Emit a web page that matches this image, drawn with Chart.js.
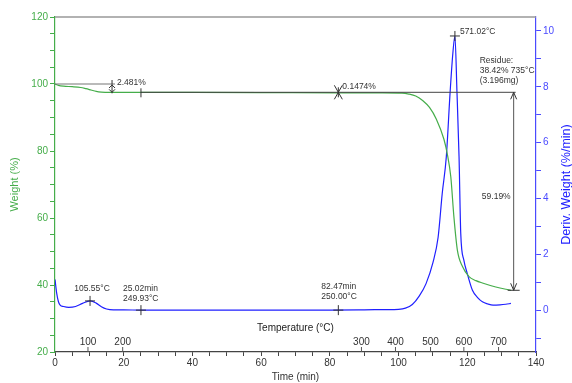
<!DOCTYPE html>
<html>
<head>
<meta charset="utf-8">
<script src="https://cdn.jsdelivr.net/npm/chart.js@4.4.1/dist/chart.umd.min.js"></script>
<style>
  html, body { margin: 0; padding: 0; background: #fff; }
</style>
</head>
<body>
<canvas id="tga" width="572" height="383"></canvas>
<script>
// weight curve (left axis), time in min
var weightTime = [0, 1, 2.5, 5, 7.5, 9, 10.5, 12, 13.5, 16, 20, 25, 40, 60, 82.5, 95, 101, 103, 105, 107, 109, 111, 113.2, 114.2, 115.2, 116.1, 117.1, 118.6, 120.5, 122.5, 124.4, 128.3, 132.7];
var weightPct  = [100, 99.6, 99.35, 99.2, 98.95, 98.6, 98.2, 97.8, 97.6, 97.52, 97.52, 97.5, 97.48, 97.44, 97.38, 97.37, 97.3, 97.0, 96.4, 95.1, 93.0, 89.5, 83.5, 79.0, 72.3, 60.4, 50.5, 45.5, 42.5, 41.3, 40.6, 39.4, 38.42];

// derivative weight (right axis)
var derivTime = [0, 0.5, 1, 1.5, 2.5, 4, 6, 8, 10.2, 12, 13.5, 15, 17, 20, 25, 40, 60, 80, 90, 96, 100, 102, 104, 106, 108, 110, 111.5, 112.7, 113.9, 115, 115.8, 116.4, 117, 117.6, 118.1, 119, 120, 121.5, 123, 124.4, 126, 127.5, 129.5, 131.2, 132.7];
var derivVal  = [1.1, 0.6, 0.3, 0.18, 0.13, 0.1, 0.13, 0.24, 0.33, 0.25, 0.12, 0.04, 0.01, 0.01, 0.0, 0.0, 0.0, 0.0, 0.01, 0.02, 0.03, 0.07, 0.2, 0.5, 0.95, 1.7, 2.6, 4.17, 5.5, 7.8, 9.2, 9.82, 7.8, 5.5, 2.74, 1.79, 1.31, 0.71, 0.45, 0.3, 0.22, 0.18, 0.19, 0.21, 0.24];

// temperature scale drawn inside the plot (time where each temperature is reached)
var tempLabels = [100, 200, 300, 400, 500, 600, 700];
var tempTime   = [9.6, 19.7, 89.2, 99.1, 109.3, 119.0, 129.1];

// step analysis marks
var stepTime  = [16.6, 82.47];
var stepLabel = ['2.481%', '0.1474%'];
var residueTime = 133.5;
var residueText = ['Residue:', '38.42% 735°C', '(3.196mg)'];

var GREEN = '#45ad4a', BLUE = '#1f1fff', FONT = '"Liberation Sans", Arial, sans-serif';

function points(xs, ys) {
    return xs.map(function(x, i) { return {x: x, y: ys[i]}; });
}
function stepTicks(from, to, step) {
    var t = [];
    for (var v = from; v <= to + 1e-9; v += step) t.push({value: v});
    return t;
}

var annot = {
    id: 'annot',
    afterDatasetsDraw: function(chart) {
        var ctx = chart.ctx, xs = chart.scales.x, yw = chart.scales.y, yd = chart.scales.y1, a = chart.chartArea;
        function line(x1, y1, x2, y2, col, w) {
            ctx.beginPath(); ctx.strokeStyle = col || '#333'; ctx.lineWidth = w || 1;
            ctx.moveTo(x1, y1); ctx.lineTo(x2, y2); ctx.stroke();
        }
        function text(s, x, y, align, font, col) {
            ctx.font = font || '8.5px ' + FONT; ctx.fillStyle = col || '#333';
            ctx.textAlign = align || 'left'; ctx.textBaseline = 'middle';
            ctx.fillText(s, x, y);
        }
        function cross(x, y) { line(x - 5, y, x + 5, y); line(x, y - 5, x, y + 5); }
        ctx.save();
        // frame top
        line(a.left, a.top, a.right, a.top, '#999', 1.5);

        var y100 = yw.getPixelForValue(100), yflat = yw.getPixelForValue(97.52);
        var yres = yw.getPixelForValue(38.42);
        // first step
        var sx = xs.getPixelForValue(stepTime[0]);
        line(a.left, y100, sx + 3, y100, '#777', 1.2);
        line(sx, y100 - 4, sx, yflat + 1);
        line(sx - 3, y100 + 4, sx, y100 + 1); line(sx + 3, y100 + 4, sx, y100 + 1);
        line(sx - 3, yflat - 3, sx, yflat); line(sx + 3, yflat - 3, sx, yflat);
        text(stepLabel[0], sx + 5, y100 - 1);
        // flat plateau line
        var x25 = xs.getPixelForValue(25.02), rx = xs.getPixelForValue(residueTime);
        line(x25, yflat, rx + 2, yflat, '#444', 1);
        line(x25, yflat - 4, x25, yflat + 5);
        // second step
        var sx2 = xs.getPixelForValue(stepTime[1]);
        line(sx2 - 4, yflat - 7, sx2 + 4, yflat + 7); line(sx2 + 4, yflat - 7, sx2 - 4, yflat + 7);
        line(sx2, yflat - 5, sx2, yflat + 5);
        text(stepLabel[1], sx2 + 4, yflat - 6);
        // residue arrow
        line(rx, yflat, rx, yres, '#555', 1);
        line(rx - 3, yflat + 7, rx, yflat); line(rx + 3, yflat + 7, rx, yflat);
        line(rx - 3, yres - 7, rx, yres); line(rx + 3, yres - 7, rx, yres);
        line(rx - 6, yres, rx + 6, yres);
        text('59.19%', rx - 3, yw.getPixelForValue(66.5), 'right');
        residueText.forEach(function(s, i) { text(s, rx - 34, 61 + i * 10); });

        // DTG peaks
        var px = xs.getPixelForValue(116.4), py = yd.getPixelForValue(9.82);
        cross(px, py); text('571.02°C', px + 5, py - 4);
        var bx = xs.getPixelForValue(10.2), by = yd.getPixelForValue(0.33);
        cross(bx, by); text('105.55°C', bx + 2, by - 12, 'center');
        var ix = xs.getPixelForValue(25.02), iy = yd.getPixelForValue(0.0);
        cross(ix, iy); text('25.02min', ix - 18, iy - 21); text('249.93°C', ix - 18, iy - 11);
        var jx = xs.getPixelForValue(82.47), jy = yd.getPixelForValue(0.0);
        cross(jx, jy); text('82.47min', jx - 17, jy - 23); text('250.00°C', jx - 17, jy - 13);

        // temperature scale
        tempLabels.forEach(function(t, i) {
            var tx = xs.getPixelForValue(tempTime[i]);
            line(tx, a.bottom, tx, a.bottom - 5, '#555', 1);
            text(String(t), tx, a.bottom - 10, 'center', '10px ' + FONT);
        });
        text('Temperature (°C)', (a.left + a.right) / 2, a.bottom - 24, 'center', '10px ' + FONT, '#222');

        // right axis title, reading upward
        ctx.translate(567, (a.top + a.bottom) / 2);
        ctx.rotate(-Math.PI / 2);
        text('Deriv. Weight (%/min)', 0, 0, 'center', '12.5px ' + FONT, BLUE);
        ctx.restore();
    }
};

new Chart(document.getElementById('tga').getContext('2d'), {
    type: 'line',
    data: {
        datasets: [{
            label: 'Weight',
            data: points(weightTime, weightPct),
            borderColor: GREEN,
            borderWidth: 1.2,
            pointRadius: 0,
            cubicInterpolationMode: 'monotone',
            yAxisID: 'y'
        }, {
            label: 'Deriv. Weight',
            data: points(derivTime, derivVal),
            borderColor: BLUE,
            borderWidth: 1.2,
            pointRadius: 0,
            cubicInterpolationMode: 'monotone',
            yAxisID: 'y1'
        }]
    },
    options: {
        responsive: false,
        animation: false,
        layout: { padding: { top: 17, left: 0, right: 0, bottom: 0 } },
        plugins: { legend: { display: false }, tooltip: { enabled: false } },
        scales: {
            x: {
                type: 'linear', min: 0, max: 140,
                afterBuildTicks: function(s) { s.ticks = stepTicks(0, 140, 5); },
                afterFit: function(s) { s.height = 31; },
                ticks: {
                    autoSkip: false, maxRotation: 0, padding: 1, color: '#333',
                    font: { family: FONT, size: 10 },
                    callback: function(v) { return v % 20 === 0 ? v : ''; }
                },
                grid: { drawOnChartArea: false, tickLength: 4, color: '#444' },
                border: { color: '#444', width: 1.2 },
                title: { display: true, text: 'Time (min)', color: '#333', font: { family: FONT, size: 10 }, padding: { top: 0, bottom: 0 } }
            },
            y: {
                position: 'left', min: 20, max: 120,
                afterBuildTicks: function(s) { s.ticks = stepTicks(20, 120, 5); },
                afterFit: function(s) { s.width = 55; },
                ticks: {
                    autoSkip: false, padding: 2, color: GREEN,
                    font: { family: FONT, size: 10 },
                    callback: function(v) { return v % 20 === 0 ? v : ''; }
                },
                grid: { drawOnChartArea: false, tickLength: 5, color: GREEN },
                border: { color: GREEN, width: 1.2 },
                title: { display: true, text: 'Weight (%)', color: GREEN, font: { family: FONT, size: 11 }, padding: { top: 8, bottom: 0 } }
            },
            y1: {
                position: 'right', min: -1.5, max: 10.5,
                afterBuildTicks: function(s) { s.ticks = stepTicks(-1, 10, 1); },
                afterFit: function(s) { s.width = 36; },
                ticks: {
                    autoSkip: false, padding: 2, color: '#4a4aff',
                    font: { family: FONT, size: 10 },
                    callback: function(v) { return v % 2 === 0 ? v : ''; }
                },
                grid: { drawOnChartArea: false, tickLength: 5, color: '#4a4aff' },
                border: { color: '#4a4aff', width: 1.2 }
            }
        }
    },
    plugins: [annot]
});
</script>
</body>
</html>
